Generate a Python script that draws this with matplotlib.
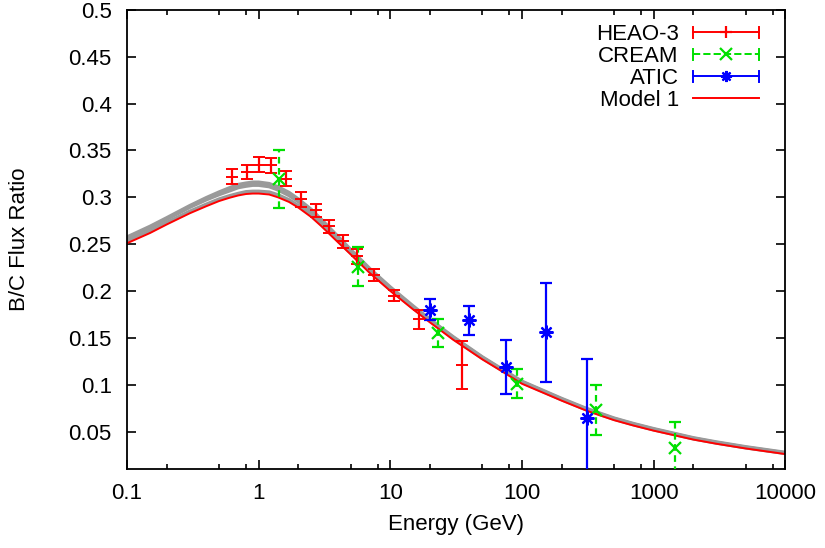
import matplotlib
matplotlib.use('Agg')
import matplotlib.pyplot as plt
from matplotlib.lines import Line2D
from matplotlib.legend_handler import HandlerBase
from matplotlib.ticker import LogLocator, FuncFormatter, MultipleLocator, NullFormatter

# model curves
model_e = [0.1, 0.15, 0.2, 0.3, 0.4, 0.5, 0.6, 0.7, 0.8, 0.9, 1.0, 1.2, 1.4, 1.7,
           2, 2.5, 3, 4, 5, 7, 10, 15, 20, 30, 50, 70, 100, 150, 200, 300, 400,
           500, 700, 1000, 2000, 3000, 5000, 10000]
model1 = [0.251, 0.262, 0.271, 0.283, 0.2905, 0.296, 0.2995, 0.302, 0.3035, 0.304,
          0.304, 0.303, 0.300, 0.295, 0.289, 0.279, 0.269, 0.252, 0.239, 0.219,
          0.200, 0.180, 0.1665, 0.148, 0.127, 0.1145, 0.101, 0.0905, 0.083,
          0.073, 0.0668, 0.0622, 0.0565, 0.051, 0.0415, 0.037, 0.032, 0.026]
gray_a = [0.2575, 0.269, 0.278, 0.291, 0.2995, 0.3055, 0.310, 0.3135, 0.315, 0.316,
          0.316, 0.3145, 0.311, 0.305, 0.298, 0.287, 0.276, 0.258, 0.244, 0.2235,
          0.204, 0.1835, 0.1695, 0.151, 0.1295, 0.1168, 0.1035, 0.0928, 0.0852,
          0.0752, 0.069, 0.0643, 0.0585, 0.053, 0.0433, 0.0388, 0.0337, 0.0277]
gray_b = [0.256, 0.2675, 0.2765, 0.2895, 0.2975, 0.303, 0.307, 0.3105, 0.312, 0.313,
          0.313, 0.3115, 0.308, 0.302, 0.2955, 0.285, 0.274, 0.2565, 0.2425, 0.2222,
          0.203, 0.1825, 0.1688, 0.1503, 0.1289, 0.1162, 0.103, 0.0922, 0.0846,
          0.0746, 0.0684, 0.0638, 0.058, 0.0525, 0.0428, 0.0383, 0.0332, 0.0272]
gray_c = [0.253, 0.2638, 0.2728, 0.285, 0.2925, 0.298, 0.3015, 0.304, 0.3058, 0.3063,
          0.3063, 0.3055, 0.3025, 0.2972, 0.291, 0.281, 0.271, 0.2538, 0.2405, 0.2205,
          0.2015, 0.1815, 0.168, 0.1495, 0.1283, 0.1157, 0.1025, 0.0917, 0.0841,
          0.0741, 0.0679, 0.0633, 0.0575, 0.052, 0.0424, 0.0379, 0.0328, 0.0268]

# measurements
heao_e = [0.63, 0.81, 1.0, 1.25, 1.6, 2.1, 2.7, 3.4, 4.4, 5.6, 7.5, 10.7, 16.5, 35]
heao_r = [0.322, 0.327, 0.335, 0.334, 0.320, 0.298, 0.286, 0.269, 0.253, 0.237,
          0.217, 0.195, 0.170, 0.121]
heao_err = [0.008, 0.008, 0.008, 0.008, 0.008, 0.008, 0.007, 0.007, 0.007, 0.008,
            0.006, 0.006, 0.010, 0.026]

cream_e = [1.43, 5.7, 22.9, 91, 366, 1460]
cream_r = [0.320, 0.226, 0.155, 0.101, 0.073, 0.033]
cream_err = [0.031, 0.021, 0.015, 0.0155, 0.027, 0.027]

atic_e = [20.1, 39.2, 75.5, 153, 311]
atic_r = [0.180, 0.169, 0.119, 0.156, 0.064]
atic_err = [0.011, 0.0155, 0.029, 0.053, 0.063]

RED = '#ff0000'
GREEN = '#00e000'
BLUE = '#0000ff'
STAR = (8, 2, 0)


class KeyHandler(HandlerBase):
    # gnuplot style key sample: horizontal bar with end caps and the point in the middle
    def create_artists(self, legend, orig, xd, yd, w, h, fontsize, trans):
        x0, x1 = -xd, -xd + w
        y = h / 2 - yd
        c = orig.get_color()
        ls = orig.get_linestyle()
        kw = dict(color=c, lw=1.4, transform=trans)
        arts = [Line2D([x0, x1], [y, y], ls=ls, **kw),
                Line2D([x0, x0], [y - 4, y + 4], **kw),
                Line2D([x1, x1], [y - 4, y + 4], **kw),
                Line2D([(x0 + x1) / 2], [y], marker=orig.get_marker(), ms=8,
                       mew=1.6, ls='none', color=c, transform=trans)]
        return arts


plt.rcParams['font.family'] = ['Liberation Sans', 'DejaVu Sans']
plt.rcParams['font.size'] = 16

fig = plt.figure(figsize=(8.25, 5.48), dpi=100)
ax = fig.add_axes([0.154, 0.144, 0.798, 0.838])

for g in (gray_a, gray_b, gray_c):
    ax.plot(model_e, g, color='#9a9a9a', lw=2.6, zorder=1)
ax.plot(model_e, model1, color=RED, lw=1.4, zorder=2)

ax.errorbar(heao_e, heao_r, yerr=heao_err, fmt='+', color=RED, ms=8, mew=1.4,
            elinewidth=1.6, capsize=4, capthick=1.6, zorder=3)
cr = ax.errorbar(cream_e, cream_r, yerr=cream_err, fmt='x', color=GREEN, ms=8,
                 mew=1.6, elinewidth=1.6, capsize=4, capthick=1.6, zorder=3)
cr[2][0].set_linestyle((0, (3, 2)))
ax.errorbar(atic_e, atic_r, yerr=atic_err, fmt='none', color=BLUE,
            elinewidth=1.6, capsize=4, capthick=1.6, zorder=3)
ax.plot(atic_e, atic_r, ls='none', marker=STAR, ms=10, mew=1.6, color=BLUE, zorder=4)

ax.set_xscale('log')
ax.set_xlim(0.1, 10000)
ax.set_ylim(0.01, 0.5)
ax.xaxis.set_major_locator(LogLocator(base=10, numticks=10))
ax.xaxis.set_minor_locator(LogLocator(base=10, subs=(2, 5, 8), numticks=20))
ax.xaxis.set_major_formatter(FuncFormatter(lambda v, p: '%g' % v))
ax.xaxis.set_minor_formatter(NullFormatter())
ax.yaxis.set_major_locator(MultipleLocator(0.05))
ax.yaxis.set_major_formatter(FuncFormatter(lambda v, p: '%g' % round(v, 2)))

ax.tick_params(which='both', direction='in', top=True, right=True, width=1.2)
ax.tick_params(which='major', length=6.5)
ax.tick_params(which='minor', length=3.8)
ax.tick_params(axis='x', pad=10)
ax.tick_params(axis='y', pad=11)
for s in ax.spines.values():
    s.set_linewidth(1.3)

ax.set_xlabel('Energy (GeV)', labelpad=7.5)
ax.set_ylabel('B/C Flux Ratio', labelpad=28)

handles = [Line2D([], [], color=RED, marker='+', ls='-'),
           Line2D([], [], color=GREEN, marker='x', ls='--'),
           Line2D([], [], color=BLUE, marker=STAR, ls='-'),
           Line2D([], [], color=RED, lw=1.4)]
hmap = {h: KeyHandler() for h in handles[:3]}
ax.legend(handles, ['HEAO-3', 'CREAM', 'ATIC', 'Model 1'], loc='upper right',
          bbox_to_anchor=(0.991, 1.013), frameon=False, markerfirst=False,
          handlelength=3.0, handletextpad=0.63, labelspacing=0.05,
          fontsize=16, handler_map=hmap)

fig.savefig('out.png', dpi=100)
